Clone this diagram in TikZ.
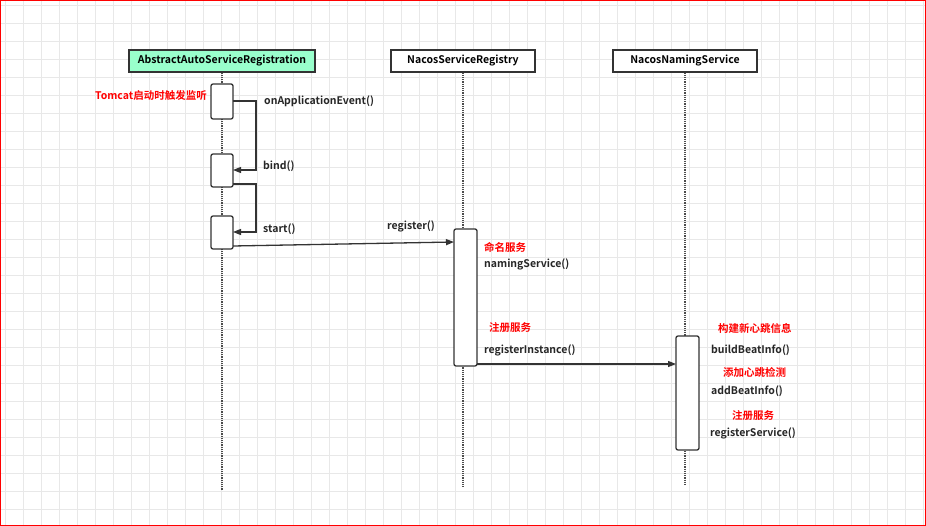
\documentclass[tikz,border=0pt]{standalone}
\usetikzlibrary{arrows.meta}
\usepackage{fontspec}
\setmainfont{Noto Sans CJK SC}[BoldFont={* Bold}]
\begin{document}
\begin{tikzpicture}[x=1pt,y=-1pt,
  lbl/.style={anchor=west,inner sep=0pt,font=\fontsize{10.5}{12}\selectfont\bfseries,text=black!85},
  rlbl/.style={lbl,text=red},
  obj/.style={draw=black!80,line width=1.3pt,minimum height=22pt,inner sep=0pt,font=\fontsize{10.5}{12}\selectfont\bfseries},
  act/.style={draw=black!80,line width=1.3pt,fill=white,rounded corners=2pt},
  life/.style={densely dotted,line width=1.2pt,black!70},
  msg/.style={draw=black!80,line width=1.3pt,-{Triangle[length=8pt,width=6pt]}}]
\useasboundingbox (0,0) rectangle (926,526);
\fill[white] (0,0) rectangle (926,526);
\foreach \i in {0,...,51} \draw[black!9,line width=0.5pt] (\i*18+5,0) -- (\i*18+5,526);
\foreach \i in {0,...,29} \draw[black!9,line width=0.5pt] (0,\i*18+5) -- (926,\i*18+5);
\draw[red,line width=1.2pt] (0.6,0.6) rectangle (925.4,525.4);
\node[obj,fill={rgb,255:red,153;green,255;blue,204},minimum width=186pt] (A) at (222,61) {AbstractAutoServiceRegistration};
\node[obj,fill=white,minimum width=144pt] (B) at (463,61) {NacosServiceRegistry};
\node[obj,fill=white,minimum width=144pt] (C) at (685,61) {NacosNamingService};
\coordinate (Ae) at (222,490); \coordinate (Be) at (463,487); \coordinate (Ce) at (685,485);
\draw[life] (A.south) -- (Ae);
\draw[life] (B.south) -- (Be);
\draw[life] (C.south) -- (Ce);
\draw[act] (211,84) rectangle (233,119); \coordinate (a1) at (233,101);
\draw[act] (211,154) rectangle (233,187); \coordinate (a2i) at (233,170); \coordinate (a2o) at (233,184);
\draw[act] (211,216) rectangle (233,249); \coordinate (a3i) at (233,232); \coordinate (a3o) at (233,246);
\draw[act] (454,229) rectangle (477,366); \coordinate (b1) at (454,242); \coordinate (b2) at (477,364);
\draw[act] (676,336) rectangle (699,450); \coordinate (c1) at (676,364);
\draw[msg] (a1) -- (256,101) -- (256,170) -- (a2i);
\draw[msg] (a2o) -- (256,184) -- (256,232) -- (a3i);
\draw[msg] (a3o) -- (b1);
\draw[msg] (b2) -- (c1);
\node[rlbl,anchor=east] (t0) at (207,96) {Tomcat启动时触发监听};
\node[lbl] (t1) at (264,101) {onApplicationEvent()};
\node[lbl] (t2) at (263,166) {bind()};
\node[lbl] (t3) at (263,229) {start()};
\node[lbl] (t4) at (387,226) {register()};
\node[rlbl] (t5) at (484,247) {命名服务};
\node[lbl] (t6) at (484,264) {namingService()};
\node[rlbl] (t7) at (489,328) {注册服务};
\node[lbl] (t8) at (484,350) {registerInstance()};
\node[rlbl] (t9) at (718,328) {构建新心跳信息};
\node[lbl] (t10) at (711,350) {buildBeatInfo()};
\node[rlbl] (t11) at (723,372) {添加心跳检测};
\node[lbl] (t12) at (711,391) {addBeatInfo()};
\node[rlbl] (t13) at (732,416) {注册服务};
\node[lbl] (t14) at (710,433) {registerService()};
\end{tikzpicture}
\end{document}
